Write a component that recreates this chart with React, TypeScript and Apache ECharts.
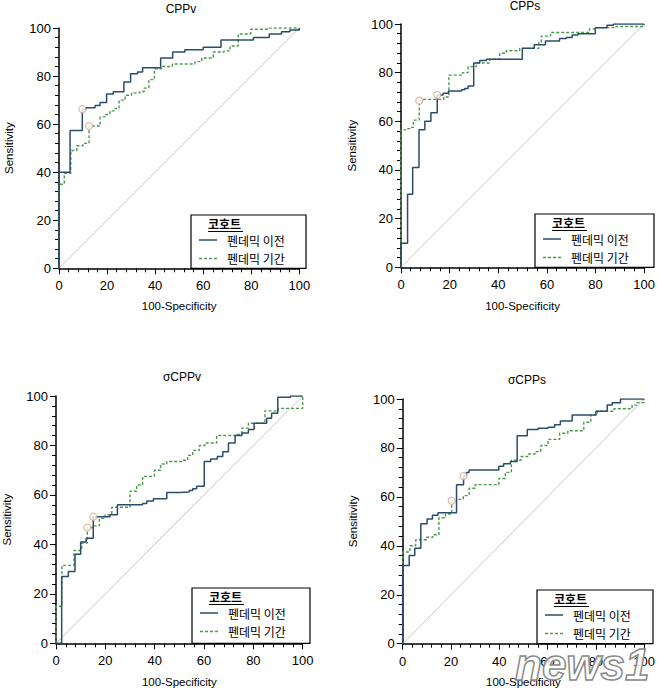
import React, { useEffect, useRef } from 'react';
import * as echarts from 'echarts';

// ---------- data ----------
const panelTitles = ['CPPv', 'CPPs', 'σCPPv', 'σCPPs'];
const seriesNames = ['펜데믹 이전', '펜데믹 기간'];
const legendTitle = '코호트';
const xAxisName = '100-Specificity';
const yAxisName = 'Sensitivity';
const axisMin = 0;
const axisMax = 100;
const tickInterval = 20;
const diagonal = [[0, 0], [100, 100]];

// [100-specificity, sensitivity] step points (pre-pandemic)
const cppvPre = [[0, 0], [0, 40], [4.6, 57.3], [9.7, 66.2], [11.2, 66.8], [15, 67.8], [17.1, 69], [19.8, 72.5], [22.6, 73.5], [27, 77.5], [29.8, 81], [32.7, 81.7], [34.8, 83.5], [42.3, 87.5], [47.3, 90], [52.4, 91], [60, 92], [67.4, 95], [80.9, 96], [87.5, 97.5], [92.6, 98.4], [96.1, 99.2], [100, 100]];
const cppvPandemic = [[0, 0], [0, 35], [2.2, 39.5], [4.9, 49], [7.4, 51], [10, 52], [12.5, 59.2], [17.1, 63], [19.2, 64], [21.2, 65.5], [23.3, 66.5], [25, 70], [27.5, 72], [30.2, 73], [33.7, 73.5], [35.4, 75], [37.4, 78.5], [39.7, 83], [42.7, 84], [47.2, 85], [56.6, 86], [59.4, 87.5], [64.2, 90], [68.7, 90.5], [71.2, 92.5], [74.6, 97.5], [79.8, 99.5], [87.5, 100], [100, 100]];

const cppsPre = [[0, 0], [0, 9.9], [2.7, 30], [4.8, 41], [7.4, 56.5], [9.8, 60], [12.3, 63.5], [14.9, 70.8], [17.3, 71.5], [19.5, 72.5], [24.9, 73], [26.2, 73.5], [27.6, 74.5], [29.9, 84], [32.4, 85], [35.1, 85.5], [49.9, 90], [54.8, 91.5], [59.4, 93], [65.2, 94], [68, 94.5], [70.4, 95.5], [72.8, 96], [79.9, 98.5], [84.7, 99.5], [87.4, 100], [100, 100]];
const cppsPandemic = [[0, 0], [0, 56.5], [2, 57], [3.7, 57.5], [5.1, 60.5], [7.5, 68.5], [9.2, 69], [17.6, 70], [19.7, 79], [25.3, 80], [27.6, 82.5], [31, 84], [36.5, 85.5], [40.6, 88], [43.3, 89], [48.8, 90], [56.7, 92.5], [57.7, 95], [61.5, 96.5], [77.5, 98], [80, 98.5], [88.4, 99], [100, 100]];

const scppvPre = [[0, 0], [2.3, 27], [5, 29], [7.7, 36], [10, 41], [12.2, 42.5], [15.1, 51.2], [21.9, 52], [24.9, 56], [35.1, 56.5], [36.8, 57.5], [39.5, 58.5], [44.9, 61], [50, 61.2], [54, 61.8], [55.4, 62.5], [57, 63.5], [60.1, 73.5], [62.7, 74.5], [65.4, 75.5], [67.6, 77.5], [69.9, 81], [72.6, 84], [75.4, 85], [78, 86.5], [80.3, 89], [85.4, 91], [87.4, 93], [89.9, 99.5], [95.1, 100], [100, 100]];
const scppvPandemic = [[0, 0], [0, 15], [2.4, 31.5], [7.3, 37.5], [10.4, 40.5], [12.7, 46.8], [15.1, 47.5], [17.6, 50.5], [19.9, 52], [22.6, 55], [30, 61.5], [32.7, 64], [35.1, 67.5], [39.9, 70], [42.4, 72.5], [44.9, 73.5], [51.4, 74], [53.4, 76], [55.4, 78], [58.1, 80], [60.4, 81], [65.1, 84], [73.2, 84.5], [75.3, 87], [78, 89], [84.7, 94], [90.1, 95], [100, 100]];

const scppsPre = [[0, 0], [0, 32], [2.7, 36], [5, 39], [7.5, 49], [10.1, 51], [12.3, 52.5], [14.6, 53.5], [22.3, 65], [25.2, 68.5], [26.4, 70], [27.5, 71], [39.8, 72.5], [41.8, 73.5], [44.6, 74.5], [47.4, 85], [51.6, 87.5], [56.1, 88], [60.2, 88.5], [62.9, 89.5], [65.3, 91], [70.2, 93.5], [80, 95], [84.7, 97.5], [86.8, 98.5], [90.2, 100], [100, 100]];
const scppsPandemic = [[0, 0], [0, 37.5], [3, 40], [5.4, 42.5], [9.8, 43.5], [12.5, 44.5], [15, 51.5], [17.7, 53], [20.3, 58.4], [22.3, 59], [25.1, 60.5], [27.5, 63.5], [30, 65], [39.8, 67.5], [42.5, 70], [45, 75], [49, 76.5], [51.8, 77.5], [54.8, 78.5], [57.2, 81], [60.2, 83.5], [65, 86], [68.4, 87], [75, 90.5], [77.9, 93.5], [80.7, 95], [87.5, 96], [95, 97.5], [97, 98.5], [100, 100]];

// optimal cut-off points [pre, pandemic]
const cppvCutoffs = [[9.7, 66.2], [12.5, 59.2]];
const cppsCutoffs = [[14.9, 70.8], [7.5, 68.5]];
const scppvCutoffs = [[15.1, 51.2], [12.7, 46.8]];
const scppsCutoffs = [[25.2, 68.5], [20.3, 58.4]];

const preCurves = [cppvPre, cppsPre, scppvPre, scppsPre];
const pandemicCurves = [cppvPandemic, cppsPandemic, scppvPandemic, scppsPandemic];
const cutoffs = [cppvCutoffs, cppsCutoffs, scppvCutoffs, scppsCutoffs];

// ---------- layout / style ----------
const layout = [
  { grid: { left: 59, top: 28, width: 240.3, height: 240.3 }, title: [181, 9], legend: { l: 191, t: 215, r: 306 }, xGap: 32, yGap: 44 },
  { grid: { left: 401, top: 24, width: 244, height: 243.3 }, title: [525, 6], legend: { l: 535, t: 214, r: 654 }, xGap: 33, yGap: 43 },
  { grid: { left: 56, top: 396, width: 246.7, height: 247.3 }, title: [182, 377], legend: { l: 192, t: 588, r: 310 }, xGap: 33, yGap: 43 },
  { grid: { left: 402.7, top: 399, width: 244.3, height: 244.7 }, title: [527, 380], legend: { l: 537, t: 590, r: 653 }, xGap: 32, yGap: 44 },
];

const FONT = '"Liberation Sans", Arial, sans-serif';
const KFONT = '"Noto Sans CJK KR", "Noto Sans", sans-serif';
const PRE_COLOR = '#2b4d6a';
const PAN_COLOR = '#4b9a4b';
const PAN_DASH = [3, 2];
const CUT_COLOR = '#d9a98a';

const watermarkSvg =
  "<svg xmlns='http://www.w3.org/2000/svg' width='140' height='52'>" +
  "<text x='3' y='42' font-family='Liberation Sans, Arial, sans-serif' font-size='44' font-weight='bold' font-style='italic' " +
  "fill='#ffffff' fill-opacity='0.85' stroke='#8a8a8a' stroke-width='1.5'>news1</text></svg>";
const watermarkUri = 'data:image/svg+xml;charset=utf-8,' + encodeURIComponent(watermarkSvg);

export default function App() {
  const ref = useRef<HTMLDivElement>(null);

  useEffect(() => {
    if (!ref.current) return;
    const chart = echarts.init(ref.current, null, { renderer: 'svg' });

    const grids: any[] = [];
    const xAxes: any[] = [];
    const yAxes: any[] = [];
    const series: any[] = [];
    const graphic: any[] = [];

    const axisCommon = {
      type: 'value',
      min: axisMin,
      max: axisMax,
      interval: tickInterval,
      nameLocation: 'middle',
      nameTextStyle: { fontFamily: FONT, fontSize: 11.5, color: '#000' },
      axisLine: { show: true, onZero: false, lineStyle: { color: '#000', width: 1.5 } },
      axisTick: { show: true, inside: false, length: 6, lineStyle: { color: '#000', width: 1 } },
      minorTick: { show: true, splitNumber: 5, length: 4, lineStyle: { color: '#000', width: 1 } },
      splitLine: { show: false },
      minorSplitLine: { show: false },
    };

    const legendText = (text: string, x: number, y: number, bold: boolean) => ({
      type: 'text', z: 21, x, y,
      style: {
        text, fontFamily: KFONT, fontSize: 12, fontWeight: bold ? 'bold' : 'normal',
        lineHeight: 14, fill: '#000', align: 'left', verticalAlign: 'middle',
      },
    });

    panelTitles.forEach((title, i) => {
      const L = layout[i];
      grids.push({ ...L.grid });
      xAxes.push({
        ...axisCommon,
        gridIndex: i,
        name: xAxisName,
        nameGap: L.xGap,
        axisLabel: { margin: 11, color: '#000', fontSize: 13, fontFamily: FONT },
      });
      yAxes.push({
        ...axisCommon,
        gridIndex: i,
        name: yAxisName,
        nameGap: L.yGap,
        axisLabel: { margin: 8, color: '#000', fontSize: 13, fontFamily: FONT },
      });

      series.push({
        type: 'line', xAxisIndex: i, yAxisIndex: i, data: diagonal, symbol: 'none', silent: true,
        lineStyle: { color: '#c9c9c9', width: 1 }, z: 1,
      });
      series.push({
        name: seriesNames[1], type: 'line', xAxisIndex: i, yAxisIndex: i, data: pandemicCurves[i],
        step: 'end', symbol: 'none', lineStyle: { color: PAN_COLOR, width: 1.4, type: PAN_DASH }, z: 2,
      });
      series.push({
        name: seriesNames[0], type: 'line', xAxisIndex: i, yAxisIndex: i, data: preCurves[i],
        step: 'end', symbol: 'none', lineStyle: { color: PRE_COLOR, width: 1.5 }, z: 3,
      });
      series.push({
        type: 'scatter', xAxisIndex: i, yAxisIndex: i, data: cutoffs[i], symbol: 'circle', symbolSize: 7,
        itemStyle: { color: '#ffffff', borderColor: CUT_COLOR, borderWidth: 1.2 }, z: 4,
      });

      // panel title
      graphic.push({
        type: 'text', x: L.title[0], y: L.title[1], z: 10,
        style: { text: title, fontFamily: FONT, fontSize: 12, fill: '#000', align: 'center', verticalAlign: 'middle' },
      });

      // legend box
      const lg = L.legend;
      const bottom = L.grid.top + L.grid.height;
      graphic.push({
        type: 'group', z: 20,
        children: [
          { type: 'rect', z: 20, shape: { x: lg.l, y: lg.t, width: lg.r - lg.l, height: bottom - lg.t }, style: { fill: '#fff', stroke: '#000', lineWidth: 1.2 } },
          legendText(legendTitle, lg.l + 17, lg.t + 8.5, true),
          { type: 'line', z: 21, shape: { x1: lg.l + 17, y1: lg.t + 16.5, x2: lg.l + 52, y2: lg.t + 16.5 }, style: { stroke: '#000', lineWidth: 1 } },
          { type: 'line', z: 21, shape: { x1: lg.l + 8, y1: lg.t + 25, x2: lg.l + 26, y2: lg.t + 25 }, style: { stroke: PRE_COLOR, lineWidth: 1.5 } },
          legendText(seriesNames[0], lg.l + 36, lg.t + 25, false),
          { type: 'line', z: 21, shape: { x1: lg.l + 8, y1: lg.t + 43.5, x2: lg.l + 26, y2: lg.t + 43.5 }, style: { stroke: PAN_COLOR, lineWidth: 1.4, lineDash: PAN_DASH } },
          legendText(seriesNames[1], lg.l + 36, lg.t + 43.5, false),
        ],
      });
    });

    // watermark logo (image)
    graphic.push({
      type: 'image', z: 30,
      style: { image: watermarkUri, x: 512, y: 638, width: 140, height: 52 },
    });

    chart.setOption({
      animation: false,
      backgroundColor: '#ffffff',
      grid: grids,
      xAxis: xAxes,
      yAxis: yAxes,
      series,
      graphic,
    });

    return () => chart.dispose();
  }, []);

  return <div ref={ref} style={{ position: 'absolute', left: 0, top: 0, width: 658, height: 690 }} />;
}
